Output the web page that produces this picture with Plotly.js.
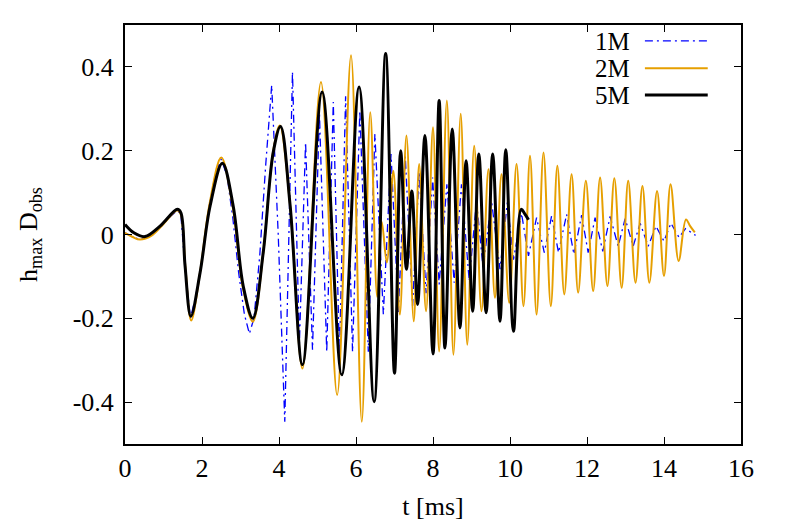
<!DOCTYPE html>
<html>
<head>
<meta charset="utf-8">
<script src="https://cdn.plot.ly/plotly-3.0.1.min.js"></script>
<style>html,body{margin:0;padding:0;background:#fff;}#chart{width:789px;height:526px;}</style>
</head>
<body>
<div id="chart"></div>
<script>
// Series names
const seriesNames = ["1M", "2M", "5M"];

// 1M (blue, dash-dot)
const t1 = [0, 0.2, 0.4, 0.7, 1.0, 1.2, 1.36, 1.45, 1.56, 1.7, 1.83, 1.95, 2.08, 2.2, 2.35, 2.5, 2.65, 2.8, 2.95, 3.1, 3.23, 3.35, 3.5, 3.65, 3.81, 3.98, 4.15, 4.35, 4.53, 4.69, 4.87, 5.05, 5.24, 5.41, 5.57, 5.73, 5.91, 6.1, 6.32, 6.49, 6.71, 6.91, 7.1, 7.28, 7.47, 7.64, 7.82, 7.99, 8.16, 8.36, 8.55, 8.74, 8.94, 9.13, 9.3, 9.52, 9.74, 9.93, 10.09, 10.3, 10.48, 10.69, 10.89, 11.08, 11.26, 11.47, 11.66, 11.86, 12.03, 12.21, 12.41, 12.6, 12.81, 12.99, 13.2, 13.38, 13.59, 13.79, 14.0, 14.18, 14.39, 14.56, 14.82];
const h1 = [0.004, -0.006, -0.012, -0.002, 0.025, 0.045, 0.058, 0.048, -0.08, -0.2, -0.15, -0.09, -0.01, 0.075, 0.145, 0.18, 0.14, 0.04, -0.09, -0.19, -0.237, -0.2, -0.05, 0.16, 0.356, 0.0, -0.447, 0.388, -0.26, 0.22, -0.275, 0.29, -0.28, 0.316, -0.29, 0.33, -0.28, 0.296, -0.28, 0.24, -0.19, 0.192, -0.185, 0.186, -0.17, 0.15, -0.14, 0.136, -0.119, 0.12, -0.115, 0.12, -0.111, 0.08, -0.079, 0.08, -0.083, 0.076, -0.06, 0.05, -0.051, 0.04, -0.043, 0.044, -0.043, 0.048, -0.047, 0.046, -0.043, 0.04, -0.04, 0.043, -0.028, 0.038, -0.028, 0.027, -0.028, 0.02, -0.016, 0.027, -0.007, 0.014, -0.002];

// 2M (orange)
const t2 = [0, 0.2, 0.39, 0.7, 1.0, 1.36, 1.45, 1.57, 1.72, 1.95, 2.2, 2.5, 2.8, 3.07, 3.32, 3.59, 3.85, 4.02, 4.29, 4.61, 5.09, 5.51, 5.87, 6.15, 6.37, 6.55, 6.67, 6.8, 6.97, 7.14, 7.31, 7.5, 7.64, 7.82, 8.0, 8.16, 8.36, 8.53, 8.72, 8.89, 9.07, 9.26, 9.44, 9.61, 9.78, 9.98, 10.17, 10.35, 10.52, 10.69, 10.87, 11.06, 11.23, 11.41, 11.6, 11.77, 11.97, 12.16, 12.34, 12.53, 12.71, 12.9, 13.07, 13.26, 13.44, 13.62, 13.82, 14.0, 14.17, 14.38, 14.57, 14.68, 14.8];
const h2 = [0.004, -0.006, -0.012, -0.002, 0.025, 0.058, 0.048, -0.08, -0.205, -0.09, 0.075, 0.184, 0.065, -0.13, -0.208, -0.045, 0.2, 0.26, 0.068, -0.32, 0.364, -0.383, 0.428, -0.447, 0.292, -0.149, 0.03, -0.067, 0.152, -0.191, 0.236, -0.207, 0.168, -0.183, 0.256, -0.279, 0.32, -0.287, 0.288, -0.263, 0.212, -0.183, 0.156, -0.151, 0.144, -0.163, 0.168, -0.171, 0.188, -0.191, 0.196, -0.171, 0.164, -0.143, 0.144, -0.139, 0.128, -0.135, 0.136, -0.123, 0.134, -0.127, 0.128, -0.115, 0.116, -0.115, 0.104, -0.099, 0.12, -0.063, 0.036, 0.02, 0.005];

// 5M (black)
const t5 = [0, 0.23, 0.52, 0.91, 1.36, 1.45, 1.56, 1.71, 1.95, 2.21, 2.53, 2.81, 3.07, 3.32, 3.59, 3.85, 4.04, 4.29, 4.61, 5.12, 5.63, 6.08, 6.47, 6.77, 7.0, 7.16, 7.31, 7.45, 7.6, 7.79, 8.0, 8.16, 8.31, 8.5, 8.7, 8.86, 9.03, 9.19, 9.38, 9.55, 9.74, 9.89, 10.09, 10.29, 10.38, 10.48];
const h5 = [0.024, 0.004, -0.005, 0.02, 0.06, 0.052, -0.075, -0.195, -0.091, 0.068, 0.17, 0.068, -0.123, -0.2, -0.043, 0.196, 0.258, 0.068, -0.311, 0.34, -0.335, 0.352, -0.399, 0.432, -0.331, 0.2, -0.083, 0.104, -0.167, 0.236, -0.285, 0.32, -0.271, 0.252, -0.223, 0.176, -0.183, 0.192, -0.187, 0.192, -0.207, 0.202, -0.231, 0.06, 0.05, 0.035];

// Axis ticks
const xTicks = [0, 2, 4, 6, 8, 10, 12, 14, 16];
const yTicks = [-0.4, -0.2, 0, 0.2, 0.4];
const yTickText = ["-0.4", "-0.2", "0", "0.2", "0.4"];

const colors = ["#0000ff", "#e69f00", "#000000"];
const widths = [1.3, 2, 3];
const dashes = ["8px,4px,2px,4px", "solid", "solid"];
const FONT = "Liberation Serif";
const FS = 26;

const traces = [
  {x: t1, y: h1, type: "scatter", mode: "lines", name: seriesNames[0],
   line: {color: colors[0], width: widths[0], dash: dashes[0]}},
  {x: t2, y: h2, type: "scatter", mode: "lines", name: seriesNames[1],
   line: {color: colors[1], width: widths[1], shape: "spline", smoothing: 1}},
  {x: t5, y: h5, type: "scatter", mode: "lines", name: seriesNames[2],
   line: {color: colors[2], width: widths[2], shape: "spline", smoothing: 1}}
];

// gnuplot-style legend (label left, sample right), placed in paper coords
const legY = [0.962, 0.897, 0.833];
const annotations = seriesNames.map((n, i) => ({
  xref: "paper", yref: "paper", x: 0.822, y: legY[i], xanchor: "right", yanchor: "middle",
  height: 24, valign: "middle", borderpad: 0,
  text: n, showarrow: false, font: {family: FONT, size: 25, color: "#000"}
}));
const shapes = seriesNames.map((n, i) => ({
  type: "line", xref: "paper", yref: "paper", x0: 0.844, x1: 0.946, y0: legY[i], y1: legY[i],
  line: {color: colors[i], width: widths[i], dash: i === 0 ? "8px,4px,2px,4px" : "solid"}
}));

const layout = {
  width: 789, height: 526,
  margin: {l: 125, r: 48, t: 25, b: 82},
  paper_bgcolor: "#fff", plot_bgcolor: "#fff",
  font: {family: FONT, size: FS, color: "#000"},
  showlegend: false,
  xaxis: {
    range: [0, 16], tickvals: xTicks, ticks: "inside", ticklen: 7, tickwidth: 1, tickcolor: "#000",
    showline: true, linewidth: 2, linecolor: "#000", mirror: "ticks", showgrid: false, zeroline: false,
    ticklabelstandoff: 0,
    title: {text: "t [ms]", font: {family: FONT, size: FS}, standoff: 15},
    tickfont: {family: FONT, size: FS}
  },
  yaxis: {
    range: [-0.5, 0.5], tickvals: yTicks, ticktext: yTickText, ticks: "inside", ticklen: 7, tickwidth: 1, tickcolor: "#000",
    showline: true, linewidth: 2, linecolor: "#000", mirror: "ticks", showgrid: false, zeroline: false,
    ticklabelstandoff: 4,
    title: {text: "h<sub>max</sub> D<sub>obs</sub>", font: {family: FONT, size: FS}, standoff: 28},
    tickfont: {family: FONT, size: FS}
  },
  annotations: annotations,
  shapes: shapes
};

Plotly.newPlot("chart", traces, layout, {displayModeBar: false, staticPlot: true});
</script>
</body>
</html>
